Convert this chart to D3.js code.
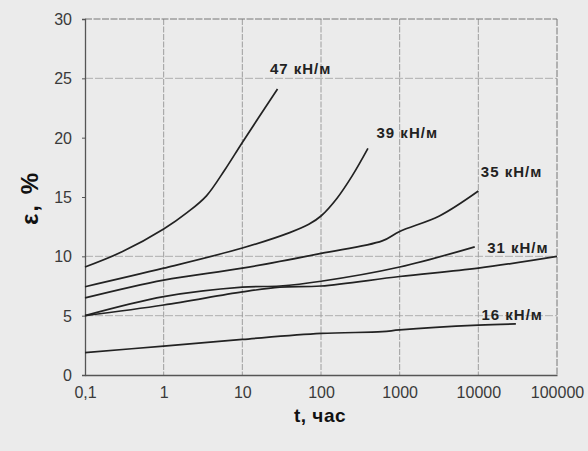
<!DOCTYPE html>
<html>
<head>
<meta charset="utf-8">
<script src="https://cdn.jsdelivr.net/npm/d3@7"></script>
<style>
  body { margin: 0; background: #ebebeb; }
  svg { display: block; font-family: "Liberation Sans", Arial, sans-serif; }
</style>
</head>
<body>
<script>
// creep strain curves, t in hours, eps in %
var tA = [0.1, 0.3, 1, 2, 3.5, 6, 10, 28];
var eA = [9.1, 10.4, 12.3, 13.7, 15.1, 17.3, 19.6, 24.1];

var tB = [0.1, 1, 10, 40, 70, 100, 160, 250, 395];
var eB = [7.44, 9.0, 10.7, 12.0, 12.7, 13.4, 14.9, 16.8, 19.1];

var tC = [0.1, 1, 10, 100, 600, 1000, 3200, 10000];
var eC = [6.5, 8.0, 9.0, 10.25, 11.3, 12.1, 13.4, 15.5];

var tD = [0.1, 1, 10, 30, 100, 1000, 9000];
var eD = [5.0, 6.6, 7.4, 7.5, 7.9, 9.1, 10.8];

var tE = [0.1, 1, 10, 30, 100, 1000, 10000, 100000];
var eE = [5.0, 5.9, 7.0, 7.4, 7.5, 8.3, 9.0, 10.0];

var tF = [0.1, 1, 10, 100, 600, 1000, 10000, 30000];
var eF = [1.88, 2.44, 3.0, 3.5, 3.65, 3.8, 4.2, 4.3];

var labels = ["47 кН/м", "39 кН/м", "35 кН/м", "31 кН/м", "16 кН/м"];
var labelT = [22.4, 508, 10770, 12940, 10970];
var labelE = [25.8, 20.4, 17.1, 10.7, 5.05];

var xTicks = [0.1, 1, 10, 100, 1000, 10000, 100000];
var xTickText = ["0,1", "1", "10", "100", "1000", "10000", "100000"];
var yTicks = [0, 5, 10, 15, 20, 25, 30];
var gridY = [5, 10, 25];

var width = 588;
var height = 451;

var x = d3.scaleLog().domain([0.1, 100000]).range([85, 557]);
var y = d3.scaleLinear().domain([0, 30]).range([375, 19]);

var svg = d3.select("body")
    .append("svg")
    .attr("width", width)
    .attr("height", height);

// grid
svg.selectAll(".gx")
    .data(xTicks.slice(1, -1))
    .enter()
        .append("line")
        .attr("x1", function(d){ return x(d); })
        .attr("x2", function(d){ return x(d); })
        .attr("y1", y(30))
        .attr("y2", y(0))
        .attr("stroke", "#8a8a8a")
        .attr("stroke-width", 0.8)
        .attr("stroke-dasharray", "6,1.5");

svg.selectAll(".gy")
    .data(gridY)
    .enter()
        .append("line")
        .attr("x1", x(0.1))
        .attr("x2", x(100000))
        .attr("y1", function(d){ return y(d); })
        .attr("y2", function(d){ return y(d); })
        .attr("stroke", "#a0a0a0")
        .attr("stroke-width", 0.8)
        .attr("stroke-dasharray", "8,2");

// frame: top and right dashed
svg.append("line")
    .attr("x1", x(0.1)).attr("x2", x(100000))
    .attr("y1", y(30)).attr("y2", y(30))
    .attr("stroke", "#777").attr("stroke-width", 1)
    .attr("stroke-dasharray", "7,1.5");
svg.append("line")
    .attr("x1", x(100000)).attr("x2", x(100000))
    .attr("y1", y(30)).attr("y2", y(0))
    .attr("stroke", "#777").attr("stroke-width", 1)
    .attr("stroke-dasharray", "7,1.5");

// axes
var xAxis = d3.axisBottom(x)
    .tickValues(xTicks)
    .tickSize(0)
    .tickPadding(12)
    .tickFormat(function(d, i){ return xTickText[i]; });

var yAxis = d3.axisLeft(y)
    .tickValues(yTicks)
    .tickSize(3)
    .tickPadding(10);

var gx = svg.append("g")
    .attr("transform", "translate(0," + y(0) + ")")
    .call(xAxis);
var gy = svg.append("g")
    .attr("transform", "translate(" + x(0.1) + ",0)")
    .call(yAxis);

[gx, gy].forEach(function(g){
    g.select(".domain").attr("stroke", "#555").attr("stroke-width", 1.3);
    g.selectAll(".tick line").attr("stroke", "#555");
    g.selectAll("text")
        .attr("fill", "#3a3a3a")
        .style("font-size", "16px")
        .style("font-family", "'Liberation Sans', Arial, sans-serif");
});
gy.selectAll("text").attr("dy", "0.35em");

// curves
var line = d3.line()
    .x(function(d){ return x(d[0]); })
    .y(function(d){ return y(d[1]); })
    .curve(d3.curveCatmullRom.alpha(0.5));

var series = [[tA, eA], [tB, eB], [tC, eC], [tD, eD], [tE, eE], [tF, eF]];

svg.selectAll(".curve")
    .data(series)
    .enter()
        .append("path")
        .attr("d", function(s){
            return line(s[0].map(function(t, i){ return [t, s[1][i]]; }));
        })
        .attr("fill", "none")
        .attr("stroke", "#222")
        .attr("stroke-width", 1.7);

// curve labels
svg.selectAll(".lbl")
    .data(labels)
    .enter()
        .append("text")
        .attr("x", function(d, i){ return x(labelT[i]); })
        .attr("y", function(d, i){ return y(labelE[i]); })
        .attr("text-anchor", "start")
        .attr("dy", "0.35em")
        .attr("fill", "#222")
        .style("font-size", "15px")
        .style("font-weight", "bold")
        .style("letter-spacing", "1px")
        .text(function(d){ return d; });

// axis titles
svg.append("text")
    .attr("x", 320)
    .attr("y", 422)
    .attr("text-anchor", "middle")
    .attr("fill", "#111")
    .style("font-size", "19px")
    .style("font-weight", "bold")
    .style("letter-spacing", "0.5px")
    .text("t, час");

svg.append("text")
    .attr("transform", "translate(38,198) rotate(-90)")
    .attr("text-anchor", "middle")
    .attr("fill", "#111")
    .style("font-size", "24px")
    .style("font-weight", "bold")
    .style("letter-spacing", "2px")
    .text("ε, %");
</script>
</body>
</html>
